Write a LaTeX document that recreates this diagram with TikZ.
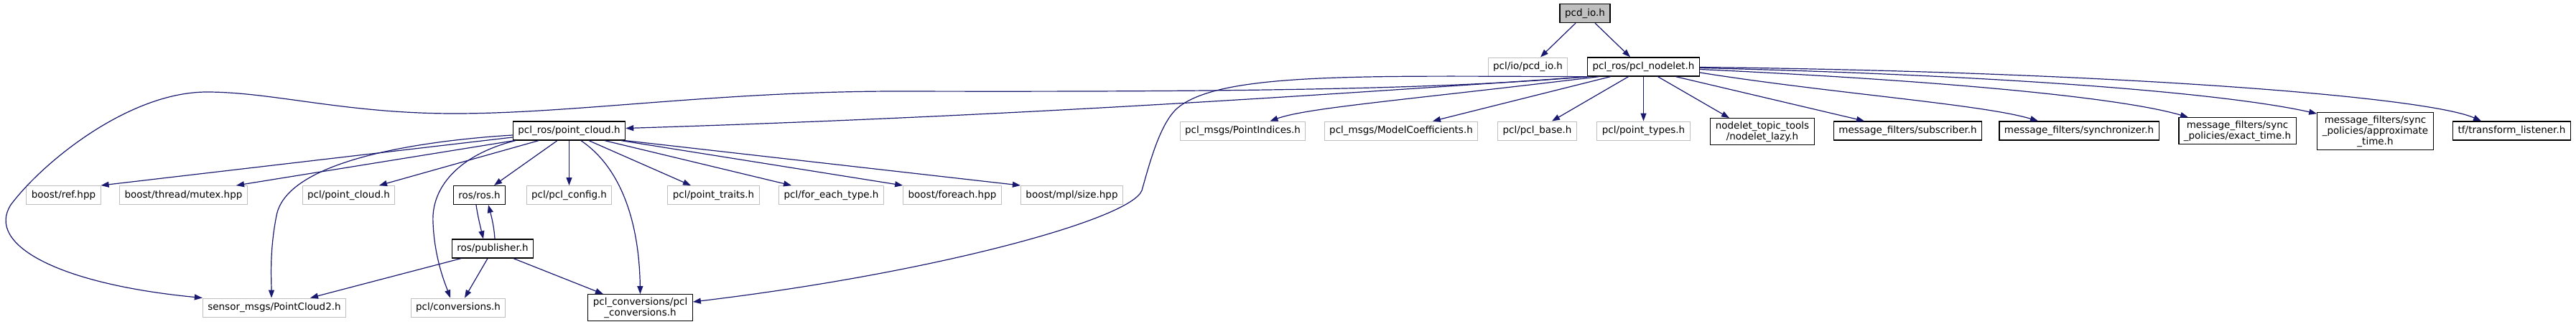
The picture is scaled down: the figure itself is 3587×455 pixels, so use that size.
\documentclass[tikz,border=0pt]{standalone}
\usepackage{fontspec}
\newfontfamily\dotfont{DejaVu Sans}
\usetikzlibrary{arrows.meta}
\definecolor{edgeblue}{RGB}{25,25,112}
\definecolor{boxgrey}{RGB}{191,191,191}
\begin{document}
\begin{tikzpicture}[x=1pt, y=-1pt,
	file/.style={draw=boxgrey, line width=1pt, fill=white, align=center, inner xsep=7pt, inner ysep=4pt, minimum height=26pt, font=\dotfont\fontsize{13.5}{15}\selectfont},
	docfile/.style={file, draw=black, line width=1.3pt},
	rootfile/.style={docfile, fill=boxgrey},
	edge/.style={edgeblue, line width=1.2pt, -{Triangle[length=11pt,width=8pt]}}]
	\useasboundingbox (0,0) rectangle (3587,455);
	
	\node[rootfile] (pcdio) at (2207,18.5) {pcd\_io.h};
	\node[file] (pcliopcd) at (2127.5,93) {pcl/io/pcd\_io.h};
	\node[docfile] (nodelet) at (2288.5,93) {pcl\_ros/pcl\_nodelet.h};
	
	\node[docfile] (pointcloud) at (792.5,182) {pcl\_ros/point\_cloud.h};
	\node[file] (pointindices) at (1730.5,182) {pcl\_msgs/PointIndices.h};
	\node[file] (modelcoeff) at (1951,182) {pcl\_msgs/ModelCoefficients.h};
	\node[file] (pclbase) at (2140.5,182) {pcl/pcl\_base.h};
	\node[file] (pointtypes) at (2288.5,182) {pcl/point\_types.h};
	\node[docfile] (nodeletlazy) at (2454,183) {nodelet\_topic\_tools\\/nodelet\_lazy.h};
	\node[docfile] (subscriber) at (2656.5,182) {message\_filters/subscriber.h};
	\node[docfile] (synchronizer) at (2895,182) {message\_filters/synchronizer.h};
	\node[docfile] (exacttime) at (3115.5,182) {message\_filters/sync\\\_policies/exact\_time.h};
	\node[docfile] (approxtime) at (3307.5,182.5) {message\_filters/sync\\\_policies/approximate\\\_time.h};
	\node[docfile] (tflistener) at (3497.5,182) {tf/transform\_listener.h};
	
	\node[file] (boostref) at (88.5,271.5) {boost/ref.hpp};
	\node[file] (mutex) at (255.5,271.5) {boost/thread/mutex.hpp};
	\node[file] (pclpointcloud) at (485.5,271.5) {pcl/point\_cloud.h};
	\node[docfile] (rosros) at (667.5,271.5) {ros/ros.h};
	\node[file] (pclconfig) at (792.5,271.5) {pcl/pcl\_config.h};
	\node[file] (pointtraits) at (993.5,271.5) {pcl/point\_traits.h};
	\node[file] (foreachtype) at (1157.5,271.5) {pcl/for\_each\_type.h};
	\node[file] (foreach) at (1326,271.5) {boost/foreach.hpp};
	\node[file] (mplsize) at (1492.5,271.5) {boost/mpl/size.hpp};
	
	\node[docfile] (publisher) at (686,346) {ros/publisher.h};
	
	\node[file] (sensor) at (382,428) {sensor\_msgs/PointCloud2.h};
	\node[file] (pclconvh) at (638,428) {pcl/conversions.h};
	\node[docfile] (pclconv) at (891.5,428) {pcl\_conversions/pcl\\\_conversions.h};
	
	\draw[edge] ([xshift=-13pt]pcdio.south) -- ([xshift=17.5pt]pcliopcd.north);
	\draw[edge] ([xshift=14pt]pcdio.south) -- ([xshift=-18.5pt]nodelet.north);
	
	\draw[edge] ([xshift=-76pt]nodelet.south) .. controls (1800,135) and (1400,162) .. ([yshift=3.5pt]pointcloud.east);
	\draw[edge] (nodelet.south west) .. controls (2000,125) and (1700,128) .. (1250,127) .. controls (1000,127) and (800,158) .. (633,158) .. controls (480,158) and (380,128) .. (288,128) .. controls (180,128) and (60,225) .. (15,285) .. controls (-20,340) and (80,395) .. (sensor.north west);
	\draw[edge] (nodelet.south west) .. controls (1900,106) and (1700,100) .. (1640,150) .. controls (1615,171) and (1600,230) .. (1590,265) .. controls (1575,305) and (1300,380) .. ([yshift=8pt]pclconv.east);
	\draw[edge] ([xshift=-62pt]nodelet.south) .. controls (1950,140) and (1820,150) .. ([xshift=38pt]pointindices.north);
	\draw[edge] ([xshift=-46pt]nodelet.south) -- ([xshift=44pt]modelcoeff.north);
	\draw[edge] ([xshift=-21pt]nodelet.south) -- ([xshift=20.5pt]pclbase.north);
	\draw[edge] (nodelet) -- (pointtypes);
	\draw[edge] ([xshift=20pt]nodelet.south) -- ([xshift=-46pt]nodeletlazy.north);
	\draw[edge] ([xshift=45pt]nodelet.south) -- ([xshift=-60.5pt]subscriber.north);
	\draw[edge] ([yshift=-8pt]nodelet.east) .. controls (2550,130) and (2760,145) .. ([xshift=-57pt]synchronizer.north);
	\draw[edge] ([yshift=-3.5pt]nodelet.east) .. controls (2700,112) and (2950,135) .. ([xshift=-68.5pt]exacttime.north);
	\draw[edge] ([yshift=-1.5pt]nodelet.east) .. controls (2800,105) and (3100,130) .. ([yshift=-2pt]approxtime.north west);
	\draw[edge] ([yshift=-0.5pt]nodelet.east) .. controls (2950,100) and (3380,135) .. ([xshift=-42.5pt]tflistener.north);
	
	\draw[edge] ([yshift=-9pt]pointcloud.west) -- (boostref.north east);
	\draw[edge] ([xshift=2pt]pointcloud.south west) -- ([xshift=73.5pt]mutex.north);
	\draw[edge] ([xshift=-42.5pt]pointcloud.south) -- ([xshift=42.5pt]pclpointcloud.north);
	\draw[edge] ([xshift=-16.5pt]pointcloud.south) -- ([xshift=20.5pt]rosros.north);
	\draw[edge] (pointcloud) -- (pclconfig);
	\draw[edge] ([xshift=27.5pt]pointcloud.south) -- ([xshift=-31.5pt]pointtraits.north);
	\draw[edge] ([xshift=49.5pt]pointcloud.south) -- ([xshift=-55.5pt]foreachtype.north);
	\draw[edge] ([xshift=72.5pt]pointcloud.south) -- (foreach.north west);
	\draw[edge] (pointcloud.south east) -- (mplsize.north west);
	\draw[edge] ([yshift=-6pt]pointcloud.west) .. controls (600,195) and (400,220) .. (385,300) .. controls (375,350) and (378,390) .. ([xshift=-4pt]sensor.north);
	\draw[edge] ([xshift=4pt]pointcloud.south west) .. controls (640,215) and (600,260) .. (603,310) .. controls (605,360) and (620,395) .. ([xshift=-11pt]pclconvh.north);
	\draw[edge] ([xshift=16.5pt]pointcloud.south) .. controls (860,230) and (890,300) .. (pclconv.north);
	
	\draw[edge] ([xshift=-4.5pt]rosros.south) .. controls (665,300) and (670,320) .. ([xshift=-13pt]publisher.north);
	\draw[edge] ([xshift=3pt]publisher.north) .. controls (688,315) and (684,300) .. ([xshift=12.5pt]rosros.south);
	\draw[edge] ([xshift=-44pt]publisher.south) -- ([xshift=50pt]sensor.north);
	\draw[edge] ([xshift=-7pt]publisher.south) -- ([xshift=9pt]pclconvh.north);
	\draw[edge] ([xshift=29pt]publisher.south) -- ([xshift=-51.5pt]pclconv.north);
\end{tikzpicture}
\end{document}
